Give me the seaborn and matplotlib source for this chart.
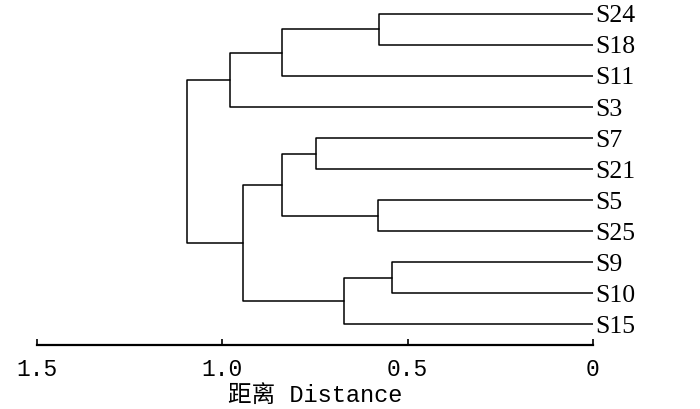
import matplotlib
matplotlib.use('Agg')
import matplotlib.pyplot as plt
import pandas as pd
import seaborn as sns

# leaf order (top to bottom) and merge steps
leaves = ['S24', 'S18', 'S11', 'S3', 'S7', 'S21', 'S5', 'S25', 'S9', 'S10', 'S15']
merge_left = ['S24', 'A', 'B', 'S7', 'S5', 'D', 'S9', 'G', 'F', 'C']
merge_right = ['S18', 'S11', 'S3', 'S21', 'S25', 'E', 'S10', 'S15', 'H', 'I']
merge_name = ['A', 'B', 'C', 'D', 'E', 'F', 'G', 'H', 'I', 'R']
merge_height = [0.577, 0.840, 0.979, 0.748, 0.579, 0.840, 0.543, 0.672, 0.943, 1.096]

tick_vals = [1.5, 1.0, 0.5, 0]
tick_labels = ['1.5', '1.0', '0.5', '0']

sns.set_theme(style='white')

# position of every node: leaves at 0 distance, clusters at mean of children
pos = {name: (0.0, i) for i, name in enumerate(leaves)}
rows = []
for k, (l, r, name, h) in enumerate(zip(merge_left, merge_right, merge_name, merge_height)):
    lx, ly = pos[l]
    rx, ry = pos[r]
    for x, y in [(lx, ly), (h, ly), (h, ry), (rx, ry)]:
        rows.append({'seg': k, 'x': x, 'y': y})
    pos[name] = (h, (ly + ry) / 2)
segs = pd.DataFrame(rows)

fig = plt.figure(figsize=(7, 4.09), dpi=100)
ax = fig.add_axes([0.053, 0.156, 0.794, 0.844])

sns.lineplot(data=segs, x='x', y='y', units='seg', estimator=None, sort=False,
             color='black', lw=1.1, ax=ax)

ax.set_xlim(1.5, 0)
ax.set_ylim(10.68, -0.45)

for s in ['top', 'left', 'right']:
    ax.spines[s].set_visible(False)
ax.spines['bottom'].set_color('black')
ax.spines['bottom'].set_linewidth(1.6)

ax.set_xticks(tick_vals, tick_labels)
ax.tick_params(axis='x', bottom=True, direction='in', length=4.5, width=1.2,
               colors='black', pad=9, labelsize=16.5)
for t in ax.get_xticklabels():
    t.set_family(['Liberation Mono', 'DejaVu Sans Mono'])

ax.yaxis.tick_right()
ax.set_yticks(range(len(leaves)), leaves)
ax.tick_params(axis='y', length=0, pad=2, labelsize=18.5, colors='black')
for t in ax.get_yticklabels():
    t.set_family(['Liberation Serif'])

ax.set_ylabel('')
ax.set_xlabel('距离 Distance', fontsize=17, color='black',
              family=['Liberation Mono', 'Noto Sans CJK SC'])
ax.xaxis.set_label_coords(0.5, -0.112)

fig.savefig('out.png', dpi=100, facecolor='white')
